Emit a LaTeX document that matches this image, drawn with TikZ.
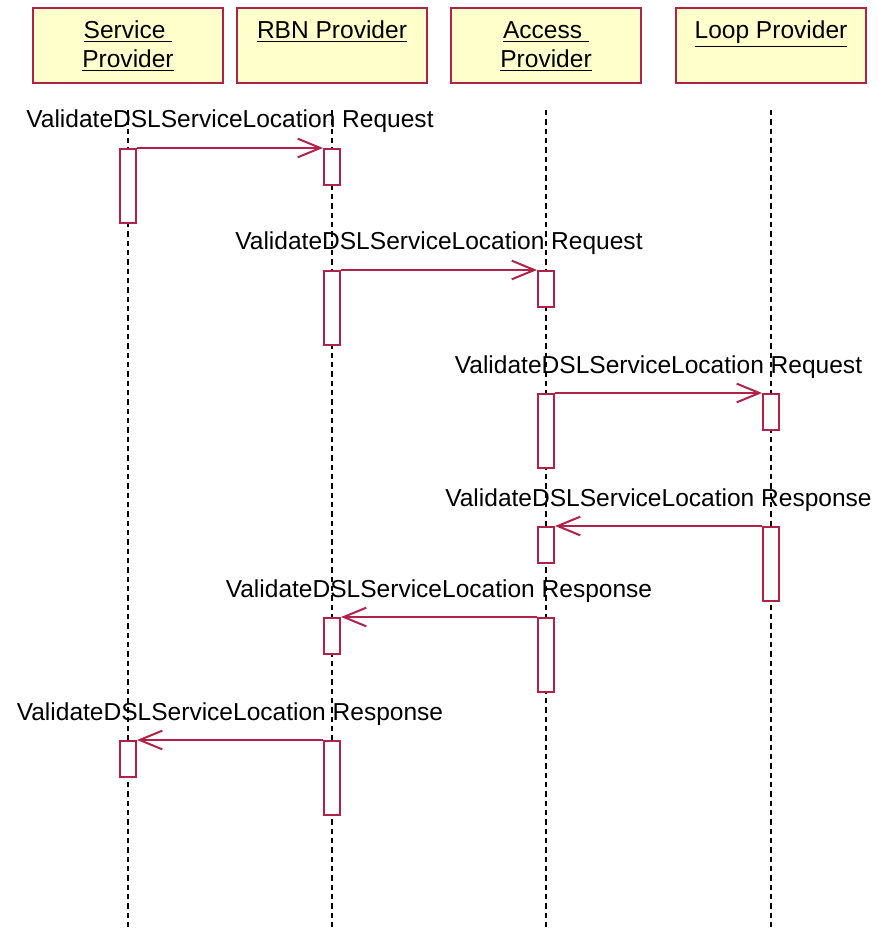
\documentclass[tikz,border=0pt]{standalone}
\usepackage{fontspec}
\setmainfont{Liberation Sans}
\usetikzlibrary{arrows.meta, positioning}
\definecolor{bordo}{RGB}{178,34,72}
\definecolor{giallino}{RGB}{255,255,204}
\newcommand{\dueRighe}[2]{\begin{tabular}[t]{@{}c@{}}\underline{#1}\\\underline{#2}\end{tabular}}

\begin{document}
\begin{tikzpicture}[x = 0.75pt, y = -0.75pt,
    intestazione/.style = {draw = bordo, fill = giallino, line width = 1.5pt, minimum width = 142.5pt, inner xsep = 0pt, inner ysep = 6pt, text height = 17.25pt, text depth = 27pt, anchor = north, font = \fontsize{18.4}{21.75}\selectfont},
    lineaVita/.style = {line width = 1.2pt, dash pattern = on 4pt off 3pt},
    attivazione/.style = {draw = bordo, fill = white, line width = 1.5pt, minimum width = 12pt, inner sep = 0pt, anchor = north},
    lunga/.style = {attivazione, minimum height = 55.5pt},
    corta/.style = {attivazione, minimum height = 27pt},
    messaggio/.style = {draw = bordo, line width = 1.5pt, -{Straight Barb[length = 17pt, width = 14pt]}},
    etichetta/.style = {anchor = base, yshift = 15pt, inner sep = 0pt, font = \fontsize{18.4}{22}\selectfont}]
    % Cornice
    \useasboundingbox (0,0) rectangle (877,930);
    \coordinate (fondo) at (0,930);
    % Intestazioni
    \node[intestazione] (sp) at (128,7) {\dueRighe{Service\ }{Provider}};
    \node[intestazione] (rbn) at (332,7) {\underline{RBN Provider}};
    \node[intestazione] (ap) at (546,7) {\dueRighe{Access\ }{Provider}};
    \node[intestazione] (lp) at (771,7) {\underline{Loop Provider}};
    % Linee di vita
    \draw[lineaVita] ([yshift = -19.5pt]sp.south) -- (sp.south |- fondo);
    \draw[lineaVita] ([yshift = -19.5pt]rbn.south) -- (rbn.south |- fondo);
    \draw[lineaVita] ([yshift = -19.5pt]ap.south) -- (ap.south |- fondo);
    \draw[lineaVita] ([yshift = -19.5pt]lp.south) -- (lp.south |- fondo);
    % Attivazioni
    \node[lunga] (sp1) at (128,148) {};
    \node[corta] (rbn1) at (332,148) {};
    \node[lunga] (rbn2) at (332,270) {};
    \node[corta] (ap1) at (546,270) {};
    \node[lunga] (ap2) at (546,393) {};
    \node[corta] (lp1) at (771,393) {};
    \node[lunga] (lp2) at (771,526) {};
    \node[corta] (ap3) at (546,526) {};
    \node[lunga] (ap4) at (546,617) {};
    \node[corta] (rbn3) at (332,617) {};
    \node[lunga] (rbn4) at (332,740) {};
    \node[corta] (sp2) at (128,740) {};
    % Messaggi
    \draw[messaggio] (sp1.north east) -- node[etichetta]{ValidateDSLServiceLocation Request} (rbn1.north west);
    \draw[messaggio] (rbn2.north east) -- node[etichetta]{ValidateDSLServiceLocation Request} (ap1.north west);
    \draw[messaggio] (ap2.north east) -- node[etichetta]{ValidateDSLServiceLocation Request} (lp1.north west);
    \draw[messaggio] (lp2.north west) -- node[etichetta]{ValidateDSLServiceLocation Response} (ap3.north east);
    \draw[messaggio] (ap4.north west) -- node[etichetta]{ValidateDSLServiceLocation Response} (rbn3.north east);
    \draw[messaggio] (rbn4.north west) -- node[etichetta]{ValidateDSLServiceLocation Response} (sp2.north east);
\end{tikzpicture}
\end{document}
